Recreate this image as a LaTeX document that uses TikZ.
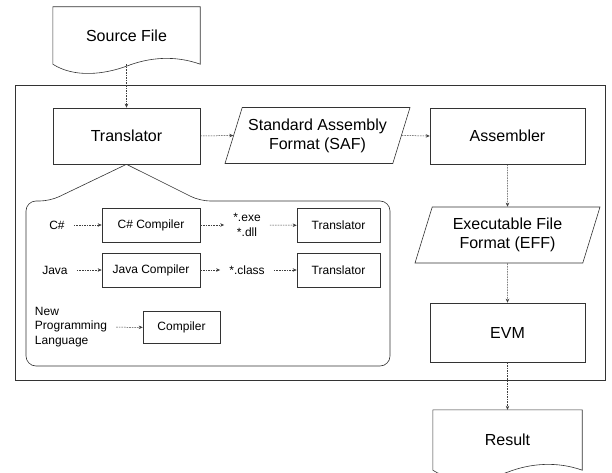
\documentclass[tikz,border=0pt]{standalone}
\usepackage{fontspec}
\setmainfont{Liberation Sans}
\usepackage{tikz}
\usetikzlibrary{shapes.geometric,arrows.meta,positioning,calc}

\newcommand\lblfont{\fontsize{16}{19}\selectfont}
\newcommand\subfont{\fontsize{12}{14.5}\selectfont}

% document outline with wavy bottom, drawn around a node
\newcommand\docoutline[1]{%
  \draw[shapeline] (#1.south west) -- (#1.north west) -- (#1.north east) -- (#1.south east)
    .. controls ($(#1.south east)+(-25,-9)$) and ($(#1.south)+(23,-7)$) .. ($(#1.south)+(0,2)$)
    .. controls ($(#1.south)+(-22,10)$) and ($(#1.south west)+(22,14)$) .. (#1.south west) -- cycle;}

\begin{document}
\begin{tikzpicture}[x=1pt,y=-1pt,
    shapeline/.style={draw=black!80, line width=0.6pt},
    bigbox/.style={shapeline, font=\lblfont, minimum width=155pt, minimum height=58pt},
    doc/.style={font=\lblfont, inner sep=0pt},
    datafmt/.style={shapeline, trapezium, trapezium left angle=67, trapezium right angle=113,
        trapezium stretches body, font=\lblfont, align=center, minimum width=185pt, minimum height=56pt},
    subbox/.style={shapeline, font=\subfont, minimum width=98pt, minimum height=34pt},
    plain/.style={font=\subfont, inner xsep=9pt, inner ysep=2pt},
    conn/.style={draw=black!75, line width=0.5pt, dash pattern=on 1.6pt off 1pt,
        -{Stealth[length=4pt,width=3.5pt]}}]
\useasboundingbox (0,0) rectangle (612,473);

% main flow
\node[doc, minimum width=147pt, minimum height=57pt] (src) at (126.5,35.5) {Source File};
\docoutline{src}
\draw[shapeline] (15,85) rectangle (605,380);
\node[bigbox, minimum width=147pt, minimum height=56pt] (trans) at (126.5,136) {Translator};
\node[datafmt] (saf) at (317.5,135.5) {Standard Assembly\\Format (SAF)};
\node[bigbox, minimum height=56pt] (asm) at (507.5,136) {Assembler};
\node[datafmt] (eff) at (507.5,235) {Executable File\\Format (EFF)};
\node[bigbox, minimum height=59pt] (evm) at (507.5,332.5) {EVM};
\node[doc, minimum width=149pt, minimum height=60pt] (res) at (507.5,440) {Result};
\docoutline{res}

\draw[conn] (src.south) -- (trans.north);
\draw[conn] (trans.east) -- (saf.west);
\draw[conn] (saf.east) -- (asm.west);
\draw[conn] (asm.south) -- (eff.north);
\draw[conn] (eff.south) -- (evm.north);
\draw[conn] (evm.south) -- (res.north);

% callout with the compilers
\draw[shapeline, rounded corners=10pt] (trans.south) -- (200,201) -- (390,201) -- (390,366)
    -- (26,366) -- (26,201) -- (50,201) -- (trans.south);

\node[plain] (cs) at (57,225) {C\#};
\node[subbox] (csc) at (151,225) {C\# Compiler};
\node[plain, align=center] (exe) at (247,225) {*.exe\\*.dll};
\node[subbox, minimum width=83pt] (tr1) at (338.5,225.5) {Translator};

\node[plain] (java) at (55,270) {Java};
\node[subbox] (jc) at (151,270) {Java Compiler};
\node[plain] (cls) at (247,270) {*.class};
\node[subbox, minimum width=83pt] (tr2) at (338.5,270) {Translator};

\node[plain, align=left] (npl) at (71,327) {New\\Programming\\Language};
\node[subbox, minimum width=77pt, minimum height=32pt] (cmp) at (181.5,327.5) {Compiler};

\draw[conn] (cs) -- (csc);
\draw[conn] (csc) -- (exe);
\draw[conn] (exe) -- (tr1);
\draw[conn] (java) -- (jc);
\draw[conn] (jc) -- (cls);
\draw[conn] (cls) -- (tr2);
\draw[conn] (npl) -- (cmp);
\end{tikzpicture}
\end{document}
